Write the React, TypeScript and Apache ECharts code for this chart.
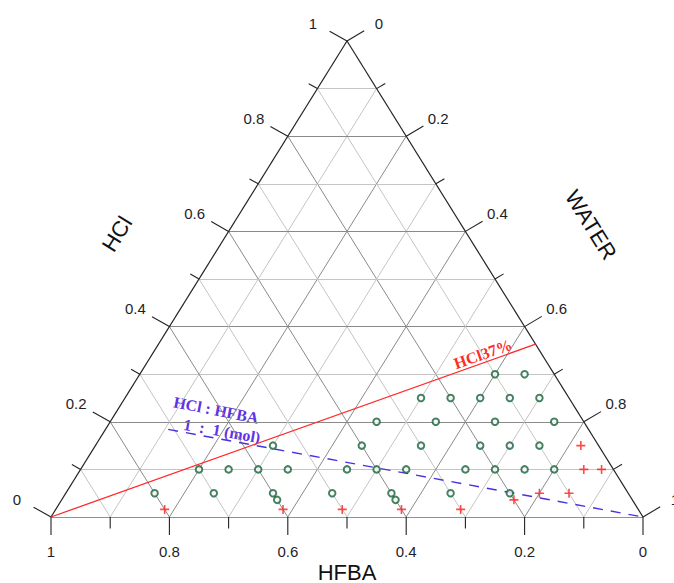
import React, { useEffect, useRef } from "react";
import * as echarts from "echarts";

// ---- data (compositions: HFBA fraction, HCl fraction; WATER = 1 - HFBA - HCl) ----
const GRID_STEPS = [0.1, 0.2, 0.3, 0.4, 0.5, 0.6, 0.7, 0.8, 0.9];
const TICK_VALUES = [0, 0.1, 0.2, 0.3, 0.4, 0.5, 0.6, 0.7, 0.8, 0.9, 1];
const BOTTOM_LABELS = ["1", "0.8", "0.6", "0.4", "0.2", "0"];
const BOTTOM_LABEL_VALUES = [1, 0.8, 0.6, 0.4, 0.2, 0]; // HFBA
const LEFT_LABELS = ["0", "0.2", "0.4", "0.6", "0.8", "1"];
const LEFT_LABEL_VALUES = [0, 0.2, 0.4, 0.6, 0.8, 1]; // HCl
const RIGHT_LABELS = ["0", "0.2", "0.4", "0.6", "0.8", "1"];
const RIGHT_LABEL_VALUES = [0, 0.2, 0.4, 0.6, 0.8, 1]; // WATER

const GREEN_HFBA = [
  0.1, 0.05,
  0.25, 0.2, 0.15, 0.1, 0.05,
  0.35, 0.25, 0.15, 0.05,
  0.55, 0.4, 0.3, 0.2, 0.15, 0.1,
  0.7, 0.65, 0.6, 0.55, 0.45, 0.4, 0.35, 0.25, 0.2, 0.15, 0.1,
  0.8, 0.7, 0.6, 0.5, 0.4, 0.3, 0.2,
  0.6, 0.4,
];
const GREEN_HCL = [
  0.3, 0.3,
  0.25, 0.25, 0.25, 0.25, 0.25,
  0.2, 0.2, 0.2, 0.2,
  0.15, 0.15, 0.15, 0.15, 0.15, 0.15,
  0.1, 0.1, 0.1, 0.1, 0.1, 0.1, 0.1, 0.1, 0.1, 0.1, 0.1,
  0.05, 0.05, 0.05, 0.05, 0.05, 0.05, 0.05,
  0.036, 0.036,
];
const RED_HFBA = [0.03, 0.05, 0.02, 0.15, 0.1, 0.2, 0.8, 0.6, 0.5, 0.4, 0.3];
const RED_HCL = [0.15, 0.1, 0.1, 0.05, 0.05, 0.036, 0.016, 0.016, 0.016, 0.016, 0.016];

// reference lines: [HFBA, HCl] end points
const HCL37_LINE = [[1, 0], [0, 0.363]];
const RATIO_LINE = [[0.71, 0.184], [0, 0]];

// ternary -> cartesian (x from left vertex HFBA=1 to right vertex WATER=1, y = HCl)
const toXY = (h: number, c: number) => [1 - h - c / 2, c];

const FONT = '"Liberation Sans", Arial, sans-serif';
const SERIF = '"Liberation Serif", "Times New Roman", serif';

export default function App() {
  const ref = useRef<HTMLDivElement>(null);
  useEffect(() => {
    if (!ref.current) return;
    const chart = echarts.init(ref.current, undefined, { renderer: "svg" });

    // grid segments
    const gridData: any[] = [];
    GRID_STEPS.forEach((v, i) => {
      const major = (i + 1) % 2 === 0;
      const color = major ? "#8a8a8a" : "#c4c4c4";
      gridData.push({ coords: [toXY(1 - v, v), toXY(0, v)], lineStyle: { color } });
      gridData.push({ coords: [toXY(v, 0), toXY(v, 1 - v)], lineStyle: { color } });
      gridData.push({ coords: [toXY(1 - v, 0), toXY(0, 1 - v)], lineStyle: { color } });
    });
    const edgeData = [
      { coords: [toXY(1, 0), toXY(0, 0)] },
      { coords: [toXY(1, 0), toXY(0, 1)] },
      { coords: [toXY(0, 0), toXY(0, 1)] },
    ];

    // ticks: [x, y, side, major]
    const tickData: number[][] = [];
    TICK_VALUES.forEach((v, i) => {
      const major = i % 2 === 0 ? 1 : 0;
      const b = toXY(v, 0);
      tickData.push([b[0], b[1], 0, major]);
      const l = toXY(1 - v, v);
      tickData.push([l[0], l[1], 1, major]);
      const r = toXY(0, 1 - v);
      tickData.push([r[0], r[1], 2, major]);
    });

    const labelItems: { xy: number[]; side: number; text: string }[] = [];
    BOTTOM_LABEL_VALUES.forEach((v, i) => labelItems.push({ xy: toXY(v, 0), side: 0, text: BOTTOM_LABELS[i] }));
    LEFT_LABEL_VALUES.forEach((v, i) => labelItems.push({ xy: toXY(1 - v, v), side: 1, text: LEFT_LABELS[i] }));
    RIGHT_LABEL_VALUES.forEach((v, i) => labelItems.push({ xy: toXY(0, 1 - v), side: 2, text: RIGHT_LABELS[i] }));

    const dirs = [[0, 1], [-0.87, -0.49], [0.86, -0.51]];
    const labelOff = [[0, 34], [-34, -18], [32, -18]];

    const option: any = {
      animation: false,
      backgroundColor: "#ffffff",
      grid: { left: 51, right: 31, top: 41, bottom: 66 },
      xAxis: { type: "value", min: 0, max: 1, show: false },
      yAxis: { type: "value", min: 0, max: 1, show: false },
      series: [
        {
          type: "lines",
          coordinateSystem: "cartesian2d",
          data: gridData,
          lineStyle: { width: 1, opacity: 1 },
          silent: true,
          z: 1,
        },
        {
          type: "lines",
          coordinateSystem: "cartesian2d",
          data: edgeData,
          lineStyle: { width: 1.2, opacity: 1, color: "#222222" },
          silent: true,
          z: 3,
        },
        {
          type: "custom",
          coordinateSystem: "cartesian2d",
          clip: false,
          silent: true,
          z: 3,
          data: tickData,
          renderItem: (params: any, api: any) => {
            const p = api.coord([api.value(0), api.value(1)]);
            const side = api.value(2);
            const major = api.value(3);
            const d = dirs[side];
            const len = side === 0 ? (major ? 18 : 11.5) : major ? 20 : 10;
            return {
              type: "line",
              shape: { x1: p[0], y1: p[1], x2: p[0] + d[0] * len, y2: p[1] + d[1] * len },
              style: { stroke: "#222222", lineWidth: 1.1 },
            };
          },
        },
        {
          type: "custom",
          coordinateSystem: "cartesian2d",
          clip: false,
          silent: true,
          z: 3,
          data: labelItems.map((it) => [it.xy[0], it.xy[1], it.side]),
          renderItem: (params: any, api: any) => {
            const p = api.coord([api.value(0), api.value(1)]);
            const side = api.value(2);
            const o = labelOff[side];
            return {
              type: "text",
              x: p[0] + o[0],
              y: p[1] + o[1],
              style: {
                text: labelItems[params.dataIndex].text,
                fontSize: 15,
                fontFamily: FONT,
                fill: "#1e1e2a",
                align: "center",
                verticalAlign: "middle",
              },
            };
          },
        },
        {
          type: "line",
          data: HCL37_LINE.map(([h, c]) => toXY(h, c)),
          showSymbol: false,
          clip: false,
          lineStyle: { color: "#ff2a2a", width: 1.3 },
          silent: true,
          z: 4,
        },
        {
          type: "line",
          data: RATIO_LINE.map(([h, c]) => toXY(h, c)),
          showSymbol: false,
          clip: false,
          lineStyle: { color: "#4433e0", width: 1.4, type: [10, 8] },
          silent: true,
          z: 4,
        },
        {
          type: "scatter",
          data: GREEN_HFBA.map((h, i) => toXY(h, GREEN_HCL[i])),
          symbol: "emptyCircle",
          symbolSize: 6.5,
          itemStyle: { color: "#17633a", borderColor: "#17633a", borderWidth: 2 },
          z: 5,
        },
        {
          type: "scatter",
          data: RED_HFBA.map((h, i) => toXY(h, RED_HCL[i])),
          symbol: "path://M3.3,0H4.7V3.3H8V4.7H4.7V8H3.3V4.7H0V3.3H3.3Z",
          symbolSize: 9,
          itemStyle: { color: "#ff1a1a" },
          z: 5,
        },
      ],
      graphic: [
        {
          type: "text",
          x: 347,
          y: 572,
          style: { text: "HFBA", fontSize: 22, fontFamily: FONT, fill: "#111111", align: "center", verticalAlign: "middle" },
        },
        {
          type: "text",
          x: 117,
          y: 234,
          rotation: (58 * Math.PI) / 180,
          style: { text: "HCl", fontSize: 22, fontFamily: FONT, fill: "#111111", align: "center", verticalAlign: "middle" },
        },
        {
          type: "text",
          x: 591,
          y: 225,
          rotation: (-58 * Math.PI) / 180,
          style: { text: "WATER", fontSize: 22, fontFamily: FONT, fill: "#111111", align: "center", verticalAlign: "middle" },
        },
        {
          type: "text",
          x: 483,
          y: 354,
          rotation: (19.5 * Math.PI) / 180,
          style: { text: "HCl37%", fontSize: 16, fontWeight: "bold", fontFamily: SERIF, fill: "#ff2a2a", align: "center", verticalAlign: "middle" },
        },
        {
          type: "text",
          x: 216,
          y: 410,
          rotation: (-11 * Math.PI) / 180,
          style: { text: "HCl : HFBA", fontSize: 16, fontWeight: "bold", fontFamily: SERIF, fill: "#5f33e6", align: "center", verticalAlign: "middle" },
        },
        {
          type: "text",
          x: 222,
          y: 431,
          rotation: (-10 * Math.PI) / 180,
          style: { text: "1  :  1 (mol)", fontSize: 16, fontWeight: "bold", fontFamily: SERIF, fill: "#5f33e6", align: "center", verticalAlign: "middle" },
        },
      ],
    };
    chart.setOption(option);
    return () => chart.dispose();
  }, []);
  return (
    <div
      ref={ref}
      style={{ position: "absolute", left: 0, top: 0, width: 674, height: 583, background: "#fff" }}
    />
  );
}
